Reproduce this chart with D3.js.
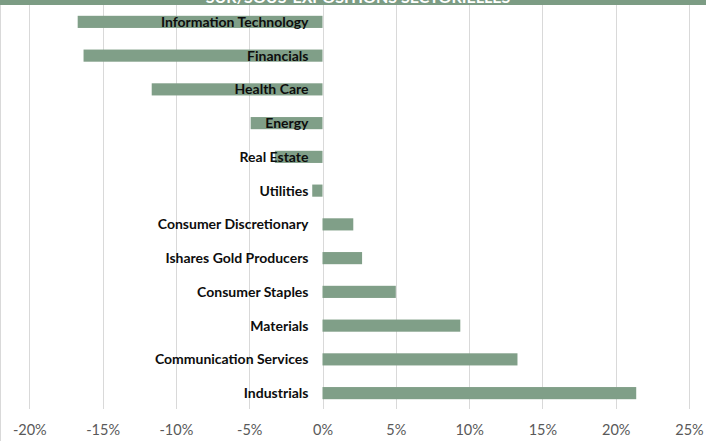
<!DOCTYPE html>
<html>
<head>
<meta charset="utf-8">
<script src="https://cdn.jsdelivr.net/npm/d3@7"></script>
<style>
  body { margin: 0; background: #fff; }
  svg { display: block; }
</style>
</head>
<body>
<div id="chart"></div>
<script>
// sector over/under exposure
var title = 'SUR/SOUS-EXPOSITIONS SECTORIELLES'
var sectors = ['Information Technology', 'Financials', 'Health Care', 'Energy', 'Real Estate', 'Utilities',
  'Consumer Discretionary', 'Ishares Gold Producers', 'Consumer Staples', 'Materials',
  'Communication Services', 'Industrials']
var values = [-0.167, -0.163, -0.1165, -0.049, -0.0325, -0.007, 0.021, 0.027, 0.050, 0.094, 0.133, 0.214]
var ticks = [-0.20, -0.15, -0.10, -0.05, 0, 0.05, 0.10, 0.15, 0.20, 0.25]

var width = 706, height = 441
var svg = d3.select('#chart').append('svg')
  .attr('width', width)
  .attr('height', height)

var x = d3.scaleLinear().domain([-0.20, 0.25]).range([29.3, 689])
var y = d3.scaleBand().domain(sectors).range([5, 410]).paddingInner(0.64).paddingOuter(0.32)

// gridlines
svg.append('g')
  .selectAll('line')
  .data(ticks)
  .enter()
  .append('line')
  .attr('x1', function(d) { return Math.round(x(d)) + 0.5 })
  .attr('x2', function(d) { return Math.round(x(d)) + 0.5 })
  .attr('y1', 5)
  .attr('y2', 409)
  .attr('stroke', '#d9d9d9')
  .attr('stroke-width', 1)

// left border
svg.append('line')
  .attr('x1', 0.5).attr('x2', 0.5).attr('y1', 5).attr('y2', height)
  .attr('stroke', '#d9d9d9')

// bars
svg.append('g')
  .selectAll('rect')
  .data(values)
  .enter()
  .append('rect')
  .attr('x', function(d) { return x(Math.min(0, d)) })
  .attr('width', function(d) { return Math.abs(x(d) - x(0)) })
  .attr('y', function(d, i) { return y(sectors[i]) })
  .attr('height', y.bandwidth())
  .attr('fill', '#809f88')

// category labels next to zero
svg.append('g')
  .selectAll('text')
  .data(sectors)
  .enter()
  .append('text')
  .attr('x', x(0) - 14)
  .attr('y', function(d) { return y(d) + y.bandwidth() / 2 })
  .attr('dy', '0.35em')
  .attr('text-anchor', 'end')
  .attr('font-family', 'Lato, sans-serif')
  .attr('font-weight', 'bold')
  .attr('font-size', '14px')
  .attr('fill', '#0d0d0d')
  .text(function(d) { return d })

// x tick labels
var xAxis = d3.axisBottom(x).tickValues(ticks).tickSize(0).tickPadding(0)
  .tickFormat(function(d) { return Math.round(d * 100) + '%' })
var gx = svg.append('g')
  .attr('transform', 'translate(0,425)')
  .call(xAxis)
gx.select('.domain').remove()
gx.selectAll('text')
  .attr('font-family', 'Lato, sans-serif')
  .attr('font-size', '14.5px')
  .attr('fill', '#595959')

// title bar, cut at top like the source
svg.append('rect')
  .attr('x', 0).attr('y', 0).attr('width', width).attr('height', 5)
  .attr('fill', '#7c9c84')
svg.append('text')
  .attr('x', 358)
  .attr('y', 3)
  .attr('text-anchor', 'middle')
  .attr('font-family', 'Lato, sans-serif')
  .attr('font-weight', 'bold')
  .attr('font-size', '16px')
  .attr('fill', '#fff')
  .text(title)
</script>
</body>
</html>
